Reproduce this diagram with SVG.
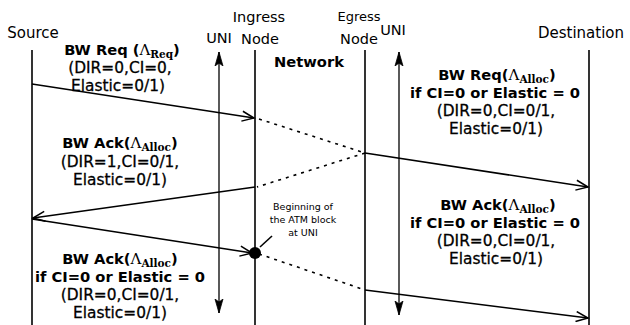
<svg xmlns="http://www.w3.org/2000/svg" width="630" height="325" viewBox="0 0 630 325">
  <style>
    .lbl { font-family: "DejaVu Sans", "Liberation Sans", sans-serif; font-size: 15px; fill: #000; }
    .cap { font-size: 14.5px; }
    .b { font-weight: bold; font-size: 14.7px; }
    .r { font-size: 15.4px; stroke: #000; stroke-width: 0.3; }
    .lam { font-family: "DejaVu Serif", "Liberation Serif", serif; font-weight: normal; font-size: 15px; }
    .sub { font-family: "DejaVu Serif", "Liberation Serif", serif; font-weight: bold; font-size: 10.5px; }
    .small { font-family: "DejaVu Sans", "Liberation Sans", sans-serif; font-size: 9.5px; fill: #000; }
    .life { stroke: #000; stroke-width: 1.6; fill: none; }
    .msg { stroke: #000; stroke-width: 1.6; fill: none; }
    .dot { stroke: #000; stroke-width: 1.6; fill: none; stroke-dasharray: 3 5; }
    .uni { stroke: #000; stroke-width: 1.3; fill: none; }
  </style>
  <defs>
    <marker id="head" markerUnits="userSpaceOnUse" markerWidth="16" markerHeight="12" refX="13" refY="6" orient="auto">
      <path d="M1,1 L13,6 L1,11" fill="none" stroke="#000" stroke-width="1.5"/>
    </marker>
    <marker id="uniHead" markerUnits="userSpaceOnUse" markerWidth="16" markerHeight="10" refX="14" refY="5" orient="auto-start-reverse">
      <path d="M0,1 L14,5 L0,9 L3,5 Z" fill="#000" stroke="#000" stroke-width="0.8"/>
    </marker>
  </defs>

  <!-- Lifelines and node captions -->
  <g id="source">
    <text class="lbl" x="33" y="38" text-anchor="middle">Source</text>
    <line class="life" x1="32" y1="50" x2="32" y2="325"/>
  </g>
  <g id="uni-left">
    <text class="lbl cap" x="219" y="43" text-anchor="middle">UNI</text>
    <line class="uni" x1="219" y1="52" x2="219" y2="313" marker-start="url(#uniHead)" marker-end="url(#uniHead)"/>
  </g>
  <g id="ingress-node">
    <text class="lbl cap" x="259" y="22" text-anchor="middle">Ingress</text>
    <text class="lbl cap" x="260" y="44" text-anchor="middle">Node</text>
    <line class="life" x1="255" y1="50" x2="255" y2="325"/>
  </g>
  <g id="network">
    <text class="lbl b" x="309" y="67" text-anchor="middle">Network</text>
  </g>
  <g id="egress-node">
    <text class="lbl" x="359" y="21" text-anchor="middle" style="font-size:13px">Egress</text>
    <text class="lbl cap" x="359" y="44" text-anchor="middle">Node</text>
    <line class="life" x1="365" y1="50" x2="365" y2="325"/>
  </g>
  <g id="uni-right">
    <text class="lbl cap" x="393" y="35" text-anchor="middle">UNI</text>
    <line class="uni" x1="399" y1="52" x2="399" y2="315" marker-start="url(#uniHead)" marker-end="url(#uniHead)"/>
  </g>
  <g id="destination">
    <text class="lbl" x="581" y="38" text-anchor="middle">Destination</text>
    <line class="life" x1="589" y1="50" x2="589" y2="325"/>
  </g>

  <!-- Message connectors -->
  <g id="connectors">
    <line class="msg" x1="32" y1="84" x2="254" y2="118" marker-end="url(#head)"/>
    <line class="dot" x1="259" y1="119" x2="365" y2="153"/>
    <line class="msg" x1="365" y1="153" x2="588" y2="187" marker-end="url(#head)"/>
    <line class="dot" x1="365" y1="153" x2="257" y2="187"/>
    <line class="msg" x1="255" y1="187" x2="33" y2="218" marker-end="url(#head)"/>
    <line class="msg" x1="32" y1="219" x2="252" y2="253" marker-end="url(#head)"/>
    <line class="dot" x1="259" y1="254" x2="365" y2="290"/>
    <line class="msg" x1="365" y1="290" x2="588" y2="318" marker-end="url(#head)"/>
    <circle cx="255" cy="253" r="6" fill="#000"/>
    <line class="msg" x1="260" y1="247" x2="272" y2="236"/>
  </g>

  <!-- Message labels -->
  <g id="label-req">
    <text class="lbl b" x="122" y="55" text-anchor="middle">BW Req (<tspan class="lam">Λ</tspan><tspan class="sub" dy="3">Req</tspan><tspan dy="-3">)</tspan></text>
    <text class="lbl r" x="120" y="73" text-anchor="middle">(DIR=0,CI=0,</text>
    <text class="lbl r" x="118" y="91" text-anchor="middle">Elastic=0/1)</text>
  </g>
  <g id="label-req-fwd">
    <text class="lbl b" x="497" y="80" text-anchor="middle">BW Req(<tspan class="lam">Λ</tspan><tspan class="sub" dy="3">Alloc</tspan><tspan dy="-3">)</tspan></text>
    <text class="lbl b" x="495" y="98" text-anchor="middle">if CI=0 or Elastic = 0</text>
    <text class="lbl r" x="496" y="116" text-anchor="middle">(DIR=0,CI=0/1,</text>
    <text class="lbl r" x="496" y="134" text-anchor="middle">Elastic=0/1)</text>
  </g>
  <g id="label-ack">
    <text class="lbl b" x="120" y="148" text-anchor="middle">BW Ack(<tspan class="lam">Λ</tspan><tspan class="sub" dy="3">Alloc</tspan><tspan dy="-3">)</tspan></text>
    <text class="lbl r" x="120" y="167" text-anchor="middle">(DIR=1,CI=0/1,</text>
    <text class="lbl r" x="120" y="185" text-anchor="middle">Elastic=0/1)</text>
  </g>
  <g id="label-ack-fwd">
    <text class="lbl b" x="498" y="210" text-anchor="middle">BW Ack(<tspan class="lam">Λ</tspan><tspan class="sub" dy="3">Alloc</tspan><tspan dy="-3">)</tspan></text>
    <text class="lbl b" x="495" y="228" text-anchor="middle">if CI=0 or Elastic = 0</text>
    <text class="lbl r" x="496" y="246" text-anchor="middle">(DIR=0,CI=0/1,</text>
    <text class="lbl r" x="496" y="264" text-anchor="middle">Elastic=0/1)</text>
  </g>
  <g id="label-ack-src">
    <text class="lbl b" x="120" y="264" text-anchor="middle">BW Ack(<tspan class="lam">Λ</tspan><tspan class="sub" dy="3">Alloc</tspan><tspan dy="-3">)</tspan></text>
    <text class="lbl b" x="120" y="282" text-anchor="middle">if CI=0 or Elastic = 0</text>
    <text class="lbl r" x="120" y="300" text-anchor="middle">(DIR=0,CI=0/1,</text>
    <text class="lbl r" x="120" y="318" text-anchor="middle">Elastic=0/1)</text>
  </g>
  <g id="note-atm">
    <text class="small" x="303" y="210" text-anchor="middle">Beginning of</text>
    <text class="small" x="303" y="223" text-anchor="middle">the ATM block</text>
    <text class="small" x="303" y="236" text-anchor="middle">at UNI</text>
  </g>
</svg>
